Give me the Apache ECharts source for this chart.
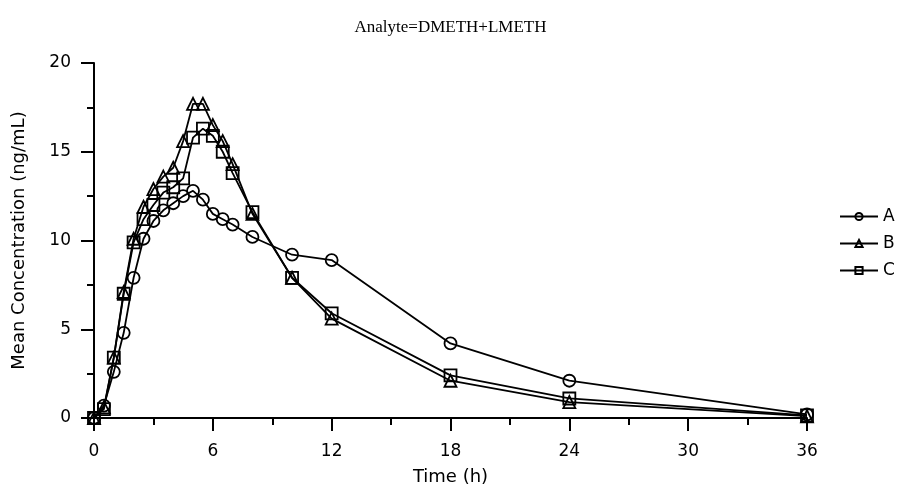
<!DOCTYPE html>
<html><head><meta charset="utf-8">
<script src="https://cdn.jsdelivr.net/npm/echarts@6/dist/echarts.min.js"></script>
<style>html,body{margin:0;padding:0;background:#fff}#c{width:901px;height:497px}</style>
</head><body><div id="c"></div>
<script>
var times = [0, 0.5, 1, 1.5, 2, 2.5, 3, 3.5, 4, 4.5, 5, 5.5, 6, 6.5, 7, 8, 10, 12, 18, 24, 36];
var seriesA = [0, 0.7, 2.6, 4.8, 7.9, 10.1, 11.1, 11.7, 12.1, 12.5, 12.8, 12.3, 11.5, 11.2, 10.9, 10.2, 9.2, 8.9, 4.2, 2.1, 0.2];
var seriesB = [0, 0.6, 3.4, 7.1, 10.1, 11.9, 12.9, 13.6, 14.1, 15.6, 17.7, 17.7, 16.5, 15.6, 14.3, 11.5, 7.9, 5.6, 2.1, 0.9, 0.1];
var seriesC = [0, 0.5, 3.4, 7.0, 9.9, 11.2, 12.0, 12.7, 13.0, 13.5, 15.8, 16.3, 15.9, 15.0, 13.8, 11.6, 7.9, 5.9, 2.4, 1.1, 0.15];
var names = ['A', 'B', 'C'];
var symbols = ['circle', 'triangle', 'rect'];
var xTicks = [0, 6, 12, 18, 24, 30, 36];
var yTicks = [0, 5, 10, 15, 20];

function pairs(vals) { return times.map(function (t, i) { return [t, vals[i]]; }); }
var all = [seriesA, seriesB, seriesC];
var chart = echarts.init(document.getElementById('c'));
var axisFont = 'DejaVu Sans';
chart.setOption({
  animation: false,
  title: {
    text: 'Analyte=DMETH+LMETH', left: 'center', top: 14,
    textStyle: { fontFamily: 'Liberation Serif', fontSize: 17, fontWeight: 'normal', color: '#000' }
  },
  legend: {
    orient: 'vertical', left: 834, top: 203, itemWidth: 38, itemHeight: 9, itemGap: 10,
    textStyle: { fontFamily: axisFont, fontSize: 17, color: '#000' },
    data: names
  },
  grid: { left: 94, right: 94, top: 63, bottom: 79, containLabel: false },
  xAxis: {
    type: 'value', min: 0, max: 36, interval: 6,
    name: 'Time (h)', nameLocation: 'middle', nameGap: 50,
    nameTextStyle: { fontFamily: axisFont, fontSize: 18, color: '#000' },
    axisLine: { show: true, lineStyle: { color: '#000', width: 2 } },
    axisTick: { show: true, length: 13, lineStyle: { color: '#000', width: 2 } },
    minorTick: { show: true, splitNumber: 2, length: 7, lineStyle: { color: '#000', width: 2 } },
    splitLine: { show: false },
    axisLabel: { margin: 25, fontFamily: axisFont, fontSize: 17, color: '#000',
      formatter: function (v) { return xTicks.indexOf(v) >= 0 ? String(v) : ''; } }
  },
  yAxis: {
    type: 'value', min: 0, max: 20, interval: 5,
    name: 'Mean Concentration (ng/mL)', nameLocation: 'middle', nameGap: 66,
    nameTextStyle: { fontFamily: axisFont, fontSize: 18, color: '#000' },
    axisLine: { show: true, lineStyle: { color: '#000', width: 2 } },
    axisTick: { show: true, length: 13, lineStyle: { color: '#000', width: 2 } },
    minorTick: { show: true, splitNumber: 2, length: 7, lineStyle: { color: '#000', width: 2 } },
    splitLine: { show: false },
    axisLabel: { margin: 23, fontFamily: axisFont, fontSize: 17, color: '#000',
      formatter: function (v) { return yTicks.indexOf(v) >= 0 ? String(v) : ''; } }
  },
  series: names.map(function (n, i) {
    return {
      name: n, type: 'line', data: pairs(all[i]), clip: false,
      symbol: symbols[i], symbolSize: 12, showAllSymbol: true,
      lineStyle: { color: '#000', width: 1.8 },
      itemStyle: { color: 'rgba(255,255,255,0)', borderColor: '#000', borderWidth: 1.8 }
    };
  })
});
</script></body></html>
